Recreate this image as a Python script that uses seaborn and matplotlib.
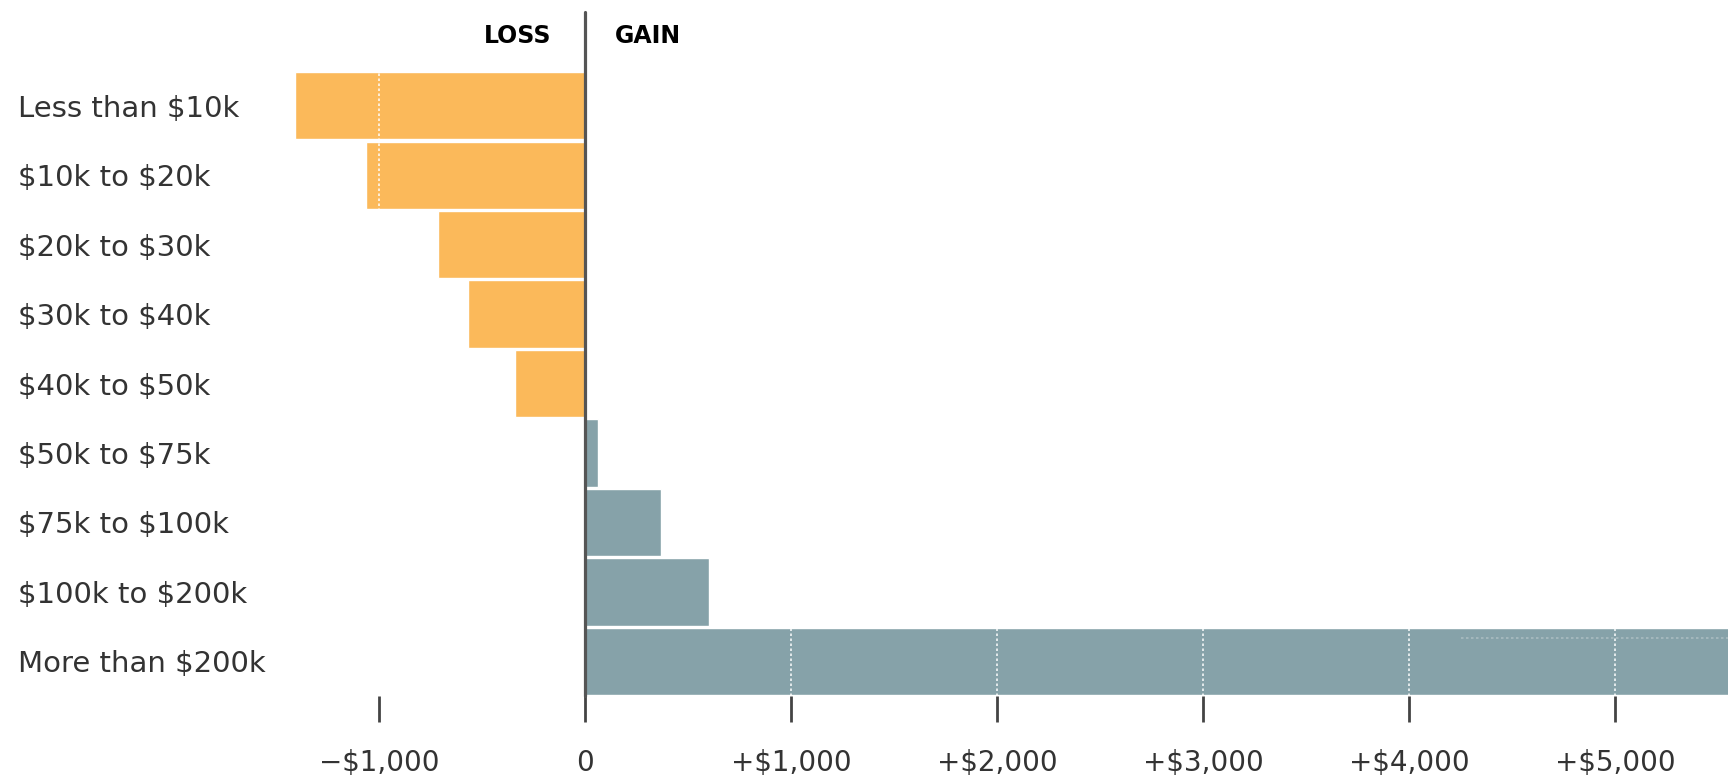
import matplotlib
matplotlib.use("Agg")
import matplotlib.pyplot as plt
import matplotlib.transforms as mtransforms
import seaborn as sns
import pandas as pd

# ---- data ----
income_groups = ["Less than $10k", "$10k to $20k", "$20k to $30k", "$30k to $40k",
                 "$40k to $50k", "$50k to $75k", "$75k to $100k", "$100k to $200k",
                 "More than $200k"]
change_dollars = [-1410, -1065, -712, -569, -338, 62, 369, 603, 5800]
tick_values = [-1000, 0, 1000, 2000, 3000, 4000, 5000]
tick_labels = ["\u2212$1,000", "0", "+$1,000", "+$2,000", "+$3,000", "+$4,000", "+$5,000"]
header_left = "LOSS"
header_right = "GAIN"

LOSS_COLOR = "#FBB95A"
GAIN_COLOR = "#86A2A9"
TEXT_COLOR = "#333333"

df = pd.DataFrame({"income": income_groups, "change": change_dollars})
df["sign"] = ["loss" if v < 0 else "gain" for v in df["change"]]

sns.set_theme(style="white")
plt.rcParams["font.family"] = ["DejaVu Sans"]
plt.rcParams["text.parse_math"] = False

DPI = 100
fig = plt.figure(figsize=(17.28, 7.78), dpi=DPI)
ax = fig.add_axes([0.1499, 0.1054, 0.8501, 0.8033])

sns.barplot(data=df, x="change", y="income", hue="sign", order=income_groups,
            palette={"loss": LOSS_COLOR, "gain": GAIN_COLOR}, dodge=False,
            width=0.97, saturation=1, legend=False, ax=ax, zorder=2)

# x scale: ~206 px per $1,000, zero at x=585 px
px_per_unit = 0.206
left_px, zero_px = 259, 585
xmin = (left_px - zero_px) / px_per_unit
xmax = (1728 - zero_px) / px_per_unit
ax.set_xlim(xmin, xmax)
ax.set_ylim(len(income_groups) - 0.5, -0.5)

for s in ax.spines.values():
    s.set_visible(False)

# white dotted gridlines visible on bars
ax.set_axisbelow(False)
for v in tick_values:
    if v != 0:
        ax.axvline(v, color="white", lw=1.2, ls=(0, (1.5, 1.5)), zorder=3, alpha=0.9)

# faint dotted line in top part of last bar
ax.hlines(len(income_groups) - 1 - 0.34, 4250, xmax, color="#a9bcc1", lw=1.2,
          ls=(0, (1.5, 1.5)), zorder=3)

# zero line extended above axes
ax.axvline(0, ymin=0, ymax=1.095, color="#555555", lw=2.3, zorder=4, clip_on=False)

ax.set_xticks(tick_values)
ax.set_xticklabels(tick_labels)
ax.tick_params(axis="x", direction="out", length=19, width=2.0, color="#444444",
               pad=19, labelsize=20, labelcolor=TEXT_COLOR, bottom=True)
ax.tick_params(axis="y", length=0, pad=173.5, labelsize=21, labelcolor=TEXT_COLOR)
for lab in ax.get_yticklabels():
    lab.set_horizontalalignment("left")

ax.set_xlabel("")
ax.set_ylabel("")

trans = mtransforms.blended_transform_factory(ax.transData, ax.transAxes)
ax.text(-165, 1.056, header_left, transform=trans, ha="right", va="center",
        fontsize=17, fontweight="bold", color="black")
ax.text(146, 1.056, header_right, transform=trans, ha="left", va="center",
        fontsize=17, fontweight="bold", color="black")

fig.savefig("out.png", dpi=DPI)
